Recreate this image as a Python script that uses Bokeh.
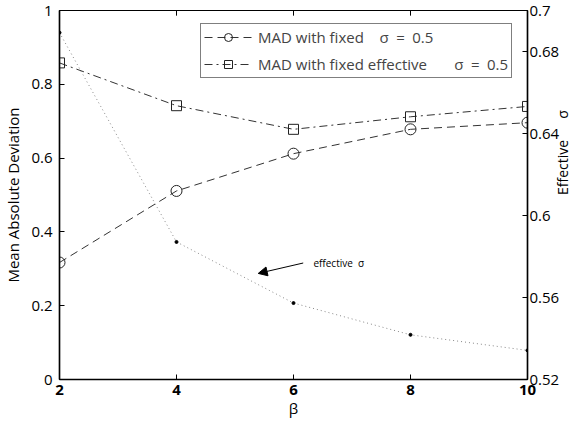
import math
from bokeh.plotting import figure
from bokeh.models import (Range1d, LinearAxis, FixedTicker, Legend, LegendItem,
                          Arrow, NormalHead, Label)
from bokeh.embed import file_html
from bokeh.resources import INLINE

# ---- data ----
beta = [2, 4, 6, 8, 10]
mad_fixed_sigma = [0.317, 0.511, 0.612, 0.678, 0.696]
mad_fixed_effective = [0.858, 0.742, 0.678, 0.712, 0.740]
effective_sigma = [0.6892, 0.5871, 0.5573, 0.5418, 0.5342]

x_ticks = [2, 4, 6, 8, 10]
left_ticks = [0, 0.2, 0.4, 0.6, 0.8, 1]
right_ticks = [0.52, 0.56, 0.6, 0.64, 0.68, 0.7]

legend_label_1 = "MAD with fixed\u00a0\u00a0\u00a0\u00a0σ\u2002=\u20020.5"
legend_label_2 = "MAD with fixed effective\u00a0\u00a0\u00a0\u00a0\u00a0\u00a0\u00a0σ\u2002=\u20020.5"
annotation_text = "effective\u00a0\u00a0σ"
right_label = "Effective\u2003\u2002σ"

FONT = "Open Sans"

p = figure(width=585, height=424, output_backend="svg", toolbar_location=None,
           x_range=Range1d(2, 10), y_range=Range1d(0, 1),
           min_border_left=59, min_border_right=58, min_border_top=10,
           min_border_bottom=45)
p.extra_y_ranges = {"sigma": Range1d(0.52, 0.7)}
p.grid.visible = False
p.outline_line_color = "black"
p.outline_line_width = 1.2
p.background_fill_color = "white"
p.border_fill_color = "white"

def style_axis(ax, bold=False):
    ax.axis_line_color = "black"
    ax.axis_line_width = 1.5
    ax.major_tick_in = 5
    ax.major_tick_out = 0
    ax.minor_tick_line_color = None
    ax.major_tick_line_color = "black"
    ax.major_label_text_font = FONT
    ax.major_label_text_font_size = "15px"
    ax.major_label_text_color = "black"
    if bold:
        ax.major_label_text_font_style = "bold"
    ax.axis_label_text_font = FONT
    ax.axis_label_text_font_size = "15px"
    ax.axis_label_text_font_style = "normal"
    ax.axis_label_text_color = "black"

# bottom
xa = p.xaxis[0]
style_axis(xa, bold=True)
xa.ticker = FixedTicker(ticks=x_ticks)
xa.axis_label = "β"
xa.major_label_standoff = 5
xa.axis_label_standoff = 0

# left
ya = p.yaxis[0]
style_axis(ya)
ya.ticker = FixedTicker(ticks=left_ticks)
ya.major_label_overrides = {0: "0", 1: "1"}
ya.axis_label = "Mean Absolute Deviation"
ya.major_label_standoff = 7
ya.axis_label_standoff = 5

# right
ra = LinearAxis(y_range_name="sigma", ticker=FixedTicker(ticks=right_ticks),
                axis_label=right_label)
style_axis(ra)
ra.major_label_standoff = 2
ra.axis_label_standoff = 0
ra.axis_label_text_font_size = "14px"
ra.axis_label_orientation = math.pi / 2
p.add_layout(ra, "right")

# mirrored ticks on the top frame edge
p.segment(x0=x_ticks, y0=[1] * len(x_ticks), x1=x_ticks,
          y1=[0.986] * len(x_ticks), line_color="black", line_width=1)

# series
l1 = p.line(beta, mad_fixed_sigma, line_color="#333333", line_width=1,
            line_dash="8 5")
m1 = p.scatter(beta, mad_fixed_sigma, marker="circle", size=11,
               fill_color=None, line_color="#222222", line_width=1)
l2 = p.line(beta, mad_fixed_effective, line_color="#333333", line_width=1,
            line_dash="8 4 2 4")
m2 = p.scatter(beta, mad_fixed_effective, marker="square", size=10,
               fill_color=None, line_color="#222222", line_width=1)
l3 = p.line(beta, effective_sigma, y_range_name="sigma", line_color="#888888",
            line_width=1, line_dash="1 3")
m3 = p.scatter(beta, effective_sigma, y_range_name="sigma", marker="circle",
               size=3, fill_color="black", line_color="black")

legend = Legend(items=[LegendItem(label=legend_label_1, renderers=[l1, m1]),
                       LegendItem(label=legend_label_2, renderers=[l2, m2])],
                location=(141, 301))
legend.label_text_font = FONT
legend.label_text_font_size = "15px"
legend.label_height = 20
legend.glyph_height = 20
legend.glyph_width = 48
legend.label_standoff = 6
legend.spacing = 7
legend.padding = 3
legend.margin = 0
legend.border_line_color = "black"
legend.border_line_width = 1.5
legend.background_fill_alpha = 1
p.add_layout(legend, "center")

# annotation arrow
arrow_tail = (6.166, 0.3157)
arrow_head = (5.397, 0.2875)
p.add_layout(Arrow(x_start=arrow_tail[0], y_start=arrow_tail[1],
                   x_end=arrow_head[0], y_end=arrow_head[1],
                   line_color="black", line_width=1,
                   end=NormalHead(size=9, fill_color="black", line_color="black")))
p.add_layout(Label(x=6.34, y=0.3157, text=annotation_text,
                   text_font=FONT, text_font_size="10px",
                   text_baseline="middle", text_color="black"))

open("out.html", "w").write(file_html(p, INLINE))
